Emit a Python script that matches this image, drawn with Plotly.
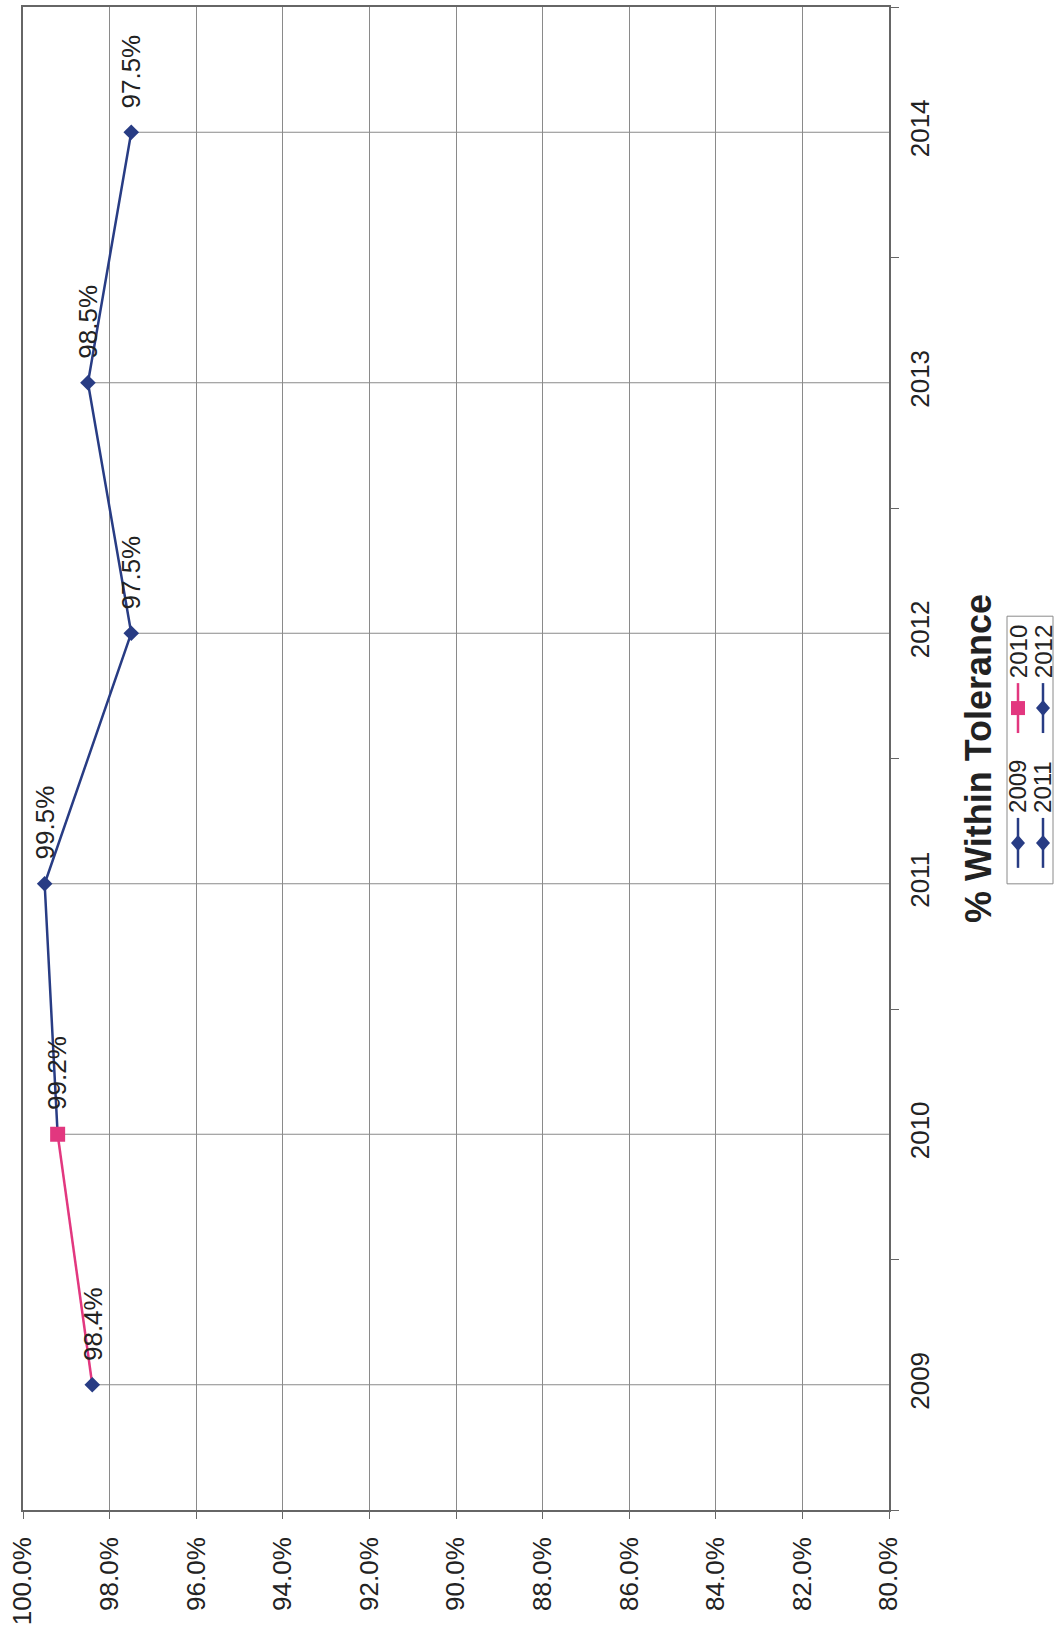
import plotly.graph_objects as go

# ---- data -------------------------------------------------------------
years = [2009, 2010, 2011, 2012, 2013, 2014]
pct_within = [98.4, 99.2, 99.5, 97.5, 98.5, 97.5]
point_colors = ["#283C84", "#E2377F", "#283C84", "#283C84", "#283C84", "#283C84"]
point_symbols = ["diamond", "square", "diamond", "diamond", "diamond", "diamond"]

pct_ticks = [100, 98, 96, 94, 92, 90, 88, 86, 84, 82, 80]
pct_ticktext = [f"{v:.1f}%" for v in pct_ticks]

legend_names = ["2009", "2010", "2011", "2012"]
legend_colors = ["#283C84", "#E2377F", "#283C84", "#283C84"]
legend_symbols = ["diamond", "square", "diamond", "diamond"]

title_text = "% Within Tolerance"

NAVY = "#283C84"
PINK = "#E2377F"
FONT = "Liberation Sans, Arial, sans-serif"
TEXT = "#222222"

W, H = 1055, 1631
M_L, M_R, M_T, M_B = 23, 166, 5, 121
PW, PH = W - M_L - M_R, H - M_T - M_B


def px_x(p):
    return (p - M_L) / PW


def px_y(p):
    return (H - M_B - p) / PH


fig = go.Figure()

# drop lines from each point to the category axis
drop_x, drop_y = [], []
for yr, v in zip(years, pct_within):
    drop_x += [v, min(pct_ticks), None]
    drop_y += [yr, yr, None]
fig.add_trace(go.Scatter(x=drop_x, y=drop_y, mode="lines",
                         line=dict(color="#8a8a8a", width=1),
                         hoverinfo="skip", showlegend=False))

# connecting lines: first segment pink, remaining navy
fig.add_trace(go.Scatter(x=pct_within[:2], y=years[:2], mode="lines",
                         line=dict(color=PINK, width=2.5), showlegend=False))
fig.add_trace(go.Scatter(x=pct_within[1:], y=years[1:], mode="lines",
                         line=dict(color=NAVY, width=2.5), showlegend=False))

# point markers
fig.add_trace(go.Scatter(x=pct_within, y=years, mode="markers",
                         marker=dict(symbol=point_symbols, color=point_colors,
                                     size=[12 if s == "diamond" else 15 for s in point_symbols],
                                     opacity=1, line=dict(width=0)),
                         showlegend=False))

annotations = []
# value labels above each point
for yr, v in zip(years, pct_within):
    annotations.append(dict(x=v, y=yr, xref="x", yref="y", text=f"{v:.1f}%",
                            textangle=-90, showarrow=False, xanchor="center",
                            yanchor="bottom", yshift=22,
                            font=dict(family=FONT, size=26, color=TEXT)))

# chart title
annotations.append(dict(x=px_x(979), y=px_y(758), xref="paper", yref="paper",
                        text=f"<b>{title_text}</b>", textangle=-90, showarrow=False,
                        xanchor="center", yanchor="middle",
                        font=dict(family=FONT, size=36, color=TEXT)))

shapes = []
# legend frame
shapes.append(dict(type="rect", xref="paper", yref="paper",
                   x0=px_x(1007), x1=px_x(1053), y0=px_y(883), y1=px_y(615),
                   line=dict(color="#8a8a8a", width=1), fillcolor="white", layer="below"))

diamond_path = "M 0,-8 L 7,0 L 0,8 L -7,0 Z"
square_path = "M -7,-7 L 7,-7 L 7,7 L -7,7 Z"
col_x = [1018, 1018, 1043, 1043]
glyph_y = [842, 707, 842, 707]
for name, color, sym, cx, gy in zip(legend_names, legend_colors, legend_symbols, col_x, glyph_y):
    shapes.append(dict(type="line", xref="paper", yref="paper",
                       x0=px_x(cx), x1=px_x(cx), y0=px_y(gy + 25), y1=px_y(gy - 25),
                       line=dict(color=color, width=2.5)))
    shapes.append(dict(type="path", xref="paper", yref="paper",
                       xsizemode="pixel", ysizemode="pixel",
                       xanchor=px_x(cx), yanchor=px_y(gy),
                       path=diamond_path if sym == "diamond" else square_path,
                       fillcolor=color, line=dict(width=0)))
    annotations.append(dict(x=px_x(cx), y=px_y(gy - 56), xref="paper", yref="paper",
                            text=name, textangle=-90, showarrow=False,
                            xanchor="center", yanchor="middle", borderpad=0,
                            font=dict(family=FONT, size=24, color=TEXT)))

fig.update_layout(
    width=W, height=H,
    margin=dict(l=M_L, r=M_R, t=M_T, b=M_B, pad=0),
    paper_bgcolor="white", plot_bgcolor="white",
    showlegend=False,
    annotations=annotations,
    shapes=shapes,
    xaxis=dict(range=[100, 80], tickvals=pct_ticks, ticktext=pct_ticktext,
               tickangle=-90, ticks="outside", ticklen=7, tickcolor="#666",
               ticklabelstandoff=8,
               showgrid=True, gridcolor="#8a8a8a", gridwidth=1,
               showline=True, linecolor="#666", linewidth=1.5, mirror=True,
               zeroline=False, tickfont=dict(family=FONT, size=26, color=TEXT)),
    yaxis=dict(range=[2008.5, 2014.5], side="right", tickvals=years,
               ticktext=[str(y) for y in years], tickangle=-90,
               ticks="outside", ticklen=0, tickcolor="rgba(0,0,0,0)",
               ticklabelstandoff=7,
               minor=dict(tick0=2008.5, dtick=1, ticks="outside", ticklen=8,
                          tickcolor="#666", showgrid=False),
               showgrid=False, showline=True, linecolor="#666", linewidth=1.5,
               mirror=True, zeroline=False,
               tickfont=dict(family=FONT, size=26, color=TEXT)),
)

fig.write_html("out.html")
